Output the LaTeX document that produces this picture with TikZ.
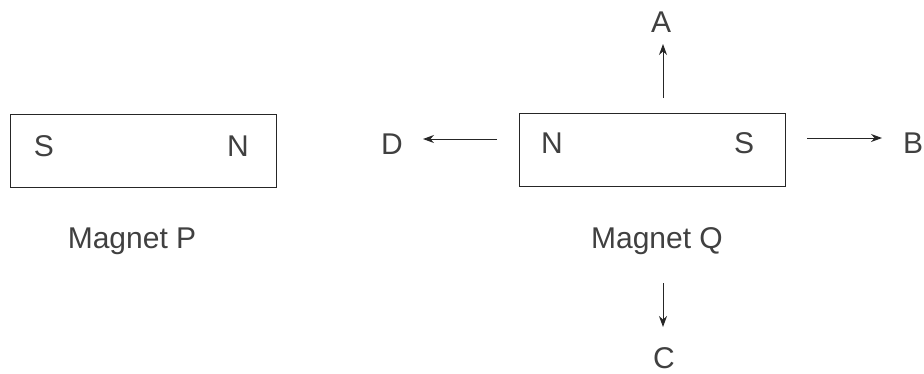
\documentclass[tikz,border=0pt]{standalone}
\usepackage{fontspec}
\setmainfont{Liberation Sans}
\usetikzlibrary{arrows.meta}
\begin{document}
\begin{tikzpicture}[x=1pt,y=-1pt,
  magnet/.style={draw=black!85, line width=0.9pt, minimum width=266pt, minimum height=73pt, inner sep=0pt},
  pole/.style={font=\fontsize{30}{34}\selectfont, text=black!75},
  lbl/.style={font=\fontsize{30}{34}\selectfont, text=black!75},
  arr/.style={draw=black!85, line width=0.9pt, -{Stealth[length=11pt,width=8pt]}}]
\useasboundingbox (0,0) rectangle (924,373);
\node[magnet] (P) at (143.5,150.5) {};
\node[pole] (PS) at (44,146) {S};
\node[pole] (PN) at (238,146) {N};
\node[lbl] (PL) at (132,241) {Magnet P};
\node[magnet] (Q) at (652.5,149.5) {};
\node[pole] (QN) at (552,143) {N};
\node[pole] (QS) at (744,143) {S};
\node[lbl] (QL) at (657,241) {Magnet Q};
\node[lbl] (A) at (661,22) {A};
\node[lbl] (B) at (913,143) {B};
\node[lbl] (C) at (664,358) {C};
\node[lbl] (D) at (392,144) {D};
\coordinate (Aa) at (663,98);
\coordinate (Ab) at (663,44);
\coordinate (Ba) at (807,138);
\coordinate (Bb) at (882,138);
\coordinate (Ca) at (663,283);
\coordinate (Cb) at (663,327);
\coordinate (Da) at (497,139);
\coordinate (Db) at (423,139);
\draw[arr] (Aa) -- (Ab);
\draw[arr] (Ba) -- (Bb);
\draw[arr] (Ca) -- (Cb);
\draw[arr] (Da) -- (Db);
\end{tikzpicture}
\end{document}
